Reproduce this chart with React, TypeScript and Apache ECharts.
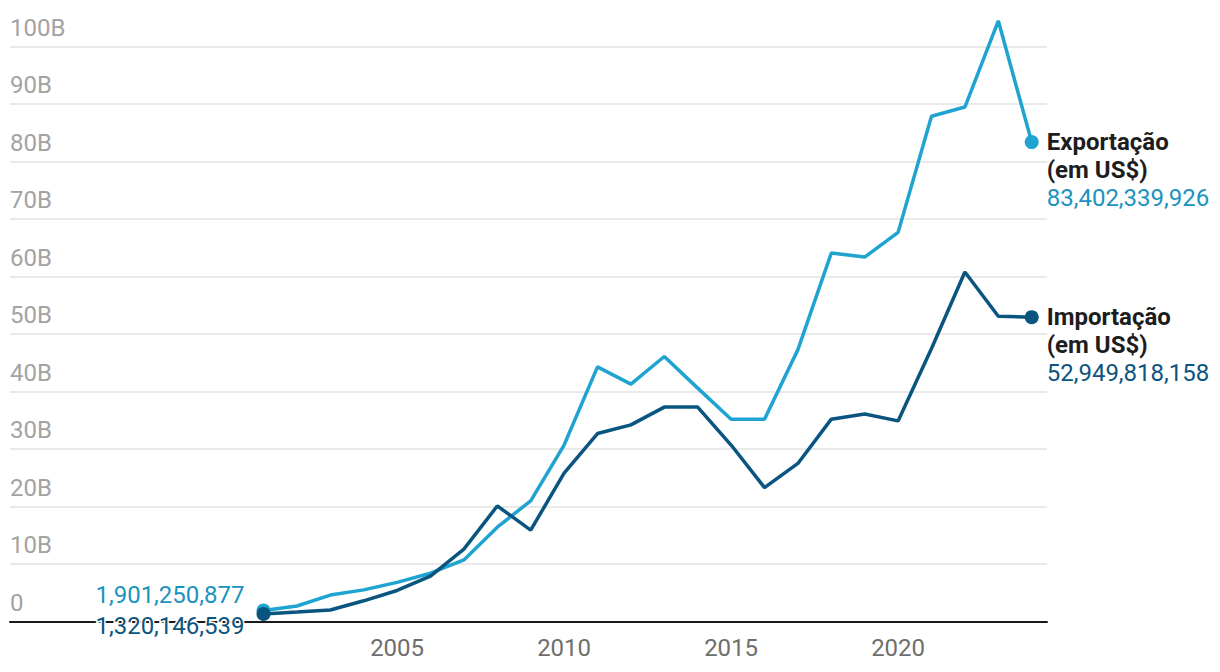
import React, { useEffect, useRef } from "react";
import * as echarts from "echarts";

const years = [2001, 2002, 2003, 2004, 2005, 2006, 2007, 2008, 2009, 2010, 2011, 2012, 2013, 2014, 2015, 2016, 2017, 2018, 2019, 2020, 2021, 2022, 2023, 2024];
// values in billions of US$
const exportacao = [1.901250877, 2.7, 4.6, 5.5, 6.8, 8.4, 10.7, 16.4, 21.0, 30.7, 44.3, 41.3, 46.1, 40.6, 35.2, 35.2, 47.3, 64.1, 63.4, 67.7, 87.9, 89.5, 104.5, 83.402339926];
const importacao = [1.320146539, 1.65, 2.0, 3.6, 5.4, 7.9, 12.6, 20.1, 15.9, 25.8, 32.7, 34.2, 37.3, 37.3, 30.7, 23.3, 27.5, 35.2, 36.1, 34.9, 47.5, 60.8, 53.1, 52.949818158];
const xTickValues = [2005, 2010, 2015, 2020];
const exportName = ["Exportação", "(em US$)"];
const importName = ["Importação", "(em US$)"];
const exportFirstLabel = "1,901,250,877";
const exportLastLabel = "83,402,339,926";
const importFirstLabel = "1,320,146,539";
const importLastLabel = "52,949,818,158";

const EXP_COLOR = "#1fa4d1";
const EXP_TEXT = "#1b93bf";
const IMP_COLOR = "#0a5580";
const IMP_TEXT = "#0b5580";
const FONT = "Roboto";
const FS = 24;

function buildData(values: number[], textColor: string, first: string, last: string, name: string[], firstOffsetY: number) {
  return values.map((v, i) => {
    const item: any = { value: [years[i], v] };
    if (i === 0) {
      item.symbol = "circle";
      item.symbolSize = 14;
      item.label = {
        show: true,
        position: "left",
        distance: 12,
        offset: [0, firstOffsetY],
        formatter: first,
        color: textColor,
        fontSize: FS,
        fontFamily: FONT,
        textBorderColor: "#fff",
        textBorderWidth: 3,
      };
    } else if (i === values.length - 1) {
      item.symbol = "circle";
      item.symbolSize = 14;
      item.label = {
        show: true,
        position: "right",
        distance: 8,
        offset: [0, 28],
        align: "left",
        formatter: `{n|${name[0]}}\n{n|${name[1]}}\n{v|${last}}`,
        rich: {
          n: { fontWeight: "bold", color: "#1d1d1d", fontSize: FS, lineHeight: 28, fontFamily: FONT },
          v: { color: textColor, fontSize: FS, lineHeight: 28, fontFamily: FONT },
        },
        textBorderColor: "#fff",
        textBorderWidth: 3,
      };
    }
    return item;
  });
}

export default function App() {
  const ref = useRef<HTMLDivElement>(null);
  useEffect(() => {
    if (!ref.current) return;
    const chart = echarts.init(ref.current, undefined, { renderer: "svg" });
    const pxPerYear = 33.4;
    const xMin = 2001 - (263.5 - 10) / pxPerYear;
    const xMax = 2024 + (1047 - (263.5 + 23 * pxPerYear)) / pxPerYear;
    chart.setOption({
      animation: false,
      textStyle: { fontFamily: FONT },
      grid: { left: 10, right: 173, top: 46.7, bottom: 50.5 },
      xAxis: {
        type: "value",
        min: xMin,
        max: xMax,
        axisLine: { show: true, lineStyle: { color: "#1a1a1a", width: 2 } },
        axisTick: { show: false },
        splitLine: { show: false },
        axisLabel: {
          customValues: xTickValues,
          formatter: (v: number) => String(v),
          color: "#6e6e6e",
          fontSize: FS,
          fontFamily: FONT,
          margin: 14,
        },
      },
      yAxis: {
        type: "value",
        min: 0,
        max: 100,
        interval: 10,
        axisLine: { show: false },
        axisTick: { show: false },
        splitLine: { show: true, lineStyle: { color: "#e2e2e2", width: 1.5 } },
        axisLabel: {
          inside: true,
          margin: 0,
          align: "left",
          verticalAlign: "bottom",
          padding: [0, 0, 7, 0],
          color: "#a3a3a3",
          fontSize: FS,
          fontFamily: FONT,
          formatter: (v: number) => (v === 0 ? "0" : `${v}B`),
        },
      },
      series: [
        {
          type: "line",
          name: "Exportação (em US$)",
          data: buildData(exportacao, EXP_TEXT, exportFirstLabel, exportLastLabel, exportName, -16),
          symbol: "none",
          showSymbol: true,
          clip: false,
          lineStyle: { color: EXP_COLOR, width: 3.5 },
          itemStyle: { color: EXP_COLOR },
          z: 3,
        },
        {
          type: "line",
          name: "Importação (em US$)",
          data: buildData(importacao, IMP_TEXT, importFirstLabel, importLastLabel, importName, 12),
          symbol: "none",
          showSymbol: true,
          clip: false,
          lineStyle: { color: IMP_COLOR, width: 3.5 },
          itemStyle: { color: IMP_COLOR },
          z: 4,
        },
      ],
    });
    return () => chart.dispose();
  }, []);
  return <div ref={ref} style={{ position: "fixed", left: 0, top: 0, width: 1220, height: 672, background: "#fff" }} />;
}
